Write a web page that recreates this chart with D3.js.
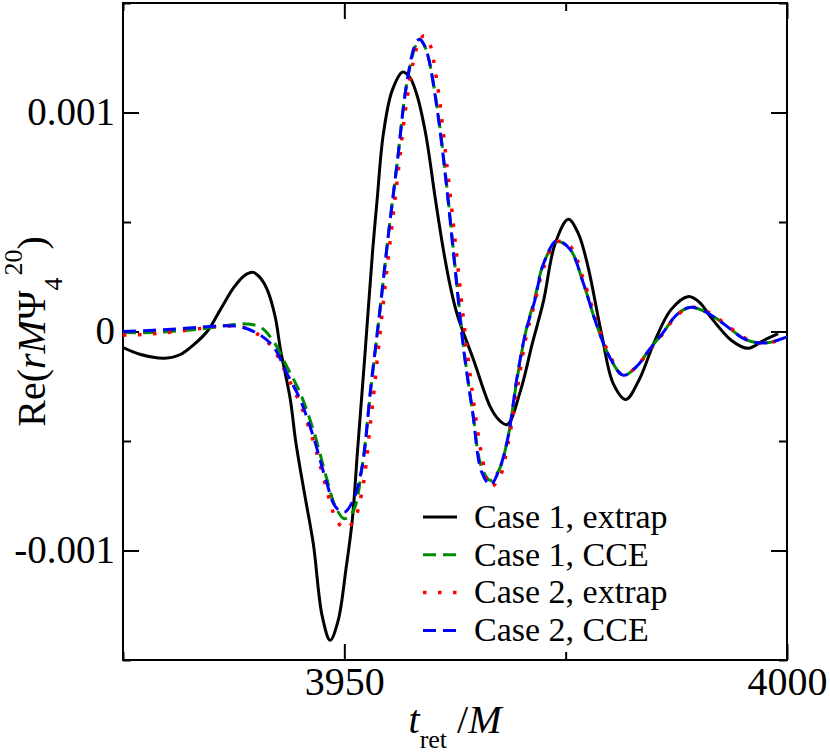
<!DOCTYPE html>
<html>
<head>
<meta charset="utf-8">
<script src="https://cdn.jsdelivr.net/npm/d3@7"></script>
<style>
	body { margin: 0; background: #fff; }
	svg { display: block; background: #fff; font-family: "Liberation Serif", "Times New Roman", serif; }
</style>
</head>
<body>
<svg id="chart"></svg>
<script>
// retarded time t_ret/M, values of Re(rM Psi4^20) given in units of 1e-3
const tExtrap1 = [3925, 3927, 3929.7, 3931.5, 3933, 3934.5, 3936, 3937.5, 3938.7, 3939.7,
	3940.5, 3941.3, 3942.2, 3942.8, 3943.9, 3944.5, 3945.5, 3946.5, 3947.5, 3948.4,
	3949.3, 3950.2, 3950.9, 3951.5, 3952.3, 3953.2, 3953.7, 3954.4, 3955.4, 3956.6,
	3957.4, 3958.2, 3959.2, 3960.3, 3961.2, 3962, 3962.8, 3964.6, 3966.5, 3967.5, 3968.4,
	3969.9, 3971.2, 3972.5, 3973.8, 3975.3, 3976.4, 3977.5, 3979, 3980.4, 3981.8,
	3983.3, 3985, 3986.9, 3988.9, 3990.2, 3991.4, 3993.7, 3995.6, 3997.4, 3999];
const valExtrap1 = [-0.073, -0.105, -0.122, -0.105, -0.06, 0, 0.10, 0.20, 0.255, 0.27,
	0.245, 0.19, 0.065, -0.086, -0.31, -0.50, -0.74, -0.97, -1.30, -1.41,
	-1.32, -1.08, -0.86, -0.54, -0.12, 0.37, 0.60, 0.90, 1.10, 1.185,
	1.16, 1.08, 0.90, 0.60, 0.37, 0.20, 0.07, -0.13, -0.345, -0.405, -0.425,
	-0.27, -0.06, 0.14, 0.40, 0.512, 0.45, 0.30, 0, -0.24, -0.31,
	-0.22, -0.05, 0.10, 0.16, 0.13, 0.065, -0.04, -0.077, -0.04, -0.01];

const tShared = [3925, 3928, 3931, 3934, 3936.5, 3938.5, 3940.5, 3942, 3943.5, 3945,
	3946.5, 3948, 3949, 3950, 3951, 3952, 3953, 3954, 3955, 3956,
	3957, 3958, 3958.5, 3959, 3959.5, 3960.5, 3961.5, 3962.5, 3963.5, 3964.5, 3965.5,
	3966.5, 3967.5, 3968.5, 3969.5, 3970.5, 3971.5, 3972.5, 3974, 3975.5, 3977,
	3978.5, 3980, 3981.5, 3983, 3984.5, 3986, 3987.5, 3989, 3990.5, 3992,
	3993.5, 3995, 3996.5, 3998, 4000];
const valCCE1 = [-0.005, -0.005, 0.002, 0.012, 0.026, 0.035, 0.02, -0.045, -0.16, -0.28,
	-0.45, -0.67, -0.80, -0.855, -0.82, -0.62, -0.26, 0.09, 0.45, 0.78,
	1.12, 1.30, 1.335, 1.31, 1.25, 1.02, 0.69, 0.30, -0.08, -0.37, -0.62,
	-0.68, -0.63, -0.48, -0.22, 0, 0.15, 0.31, 0.41, 0.375, 0.22,
	0.03, -0.12, -0.20, -0.16, -0.08, -0.005, 0.075, 0.11, 0.095, 0.06,
	0.015, -0.03, -0.05, -0.05, -0.025];
const valExtrap2 = [-0.017, -0.012, 0, 0.015, 0.025, 0.02, -0.02, -0.08, -0.20, -0.33,
	-0.50, -0.72, -0.85, -0.90, -0.87, -0.73, -0.40, -0.02, 0.35, 0.70,
	1.04, 1.27, 1.33, 1.35, 1.33, 1.13, 0.79, 0.42, 0.04, -0.29, -0.56,
	-0.71, -0.67, -0.51, -0.27, -0.03, 0.13, 0.29, 0.41, 0.39, 0.24,
	0.045, -0.11, -0.20, -0.16, -0.085, -0.01, 0.07, 0.11, 0.10, 0.065,
	0.02, -0.025, -0.05, -0.05, -0.03];
const valCCE2 = [0, 0.005, 0.012, 0.02, 0.026, 0.02, -0.017, -0.07, -0.19, -0.31,
	-0.48, -0.69, -0.80, -0.825, -0.77, -0.62, -0.25, 0.09, 0.45, 0.78,
	1.12, 1.31, 1.335, 1.31, 1.25, 1.01, 0.68, 0.29, -0.09, -0.37, -0.64,
	-0.70, -0.63, -0.48, -0.21, 0, 0.14, 0.31, 0.415, 0.375, 0.22,
	0.03, -0.12, -0.20, -0.16, -0.08, -0.005, 0.075, 0.11, 0.095, 0.06,
	0.015, -0.03, -0.05, -0.05, -0.025];

const seriesNames = ["Case 1, extrap", "Case 1, CCE", "Case 2, extrap", "Case 2, CCE"];

const xDomain = [3925, 4000];
const yDomain = [-0.0015, 0.0015];
const xMajor = [3950, 4000];
const xMinor = [3925, 3975];
const yMajor = [-0.001, 0, 0.001];
const yMinor = [-0.0015, -0.0005, 0.0005, 0.0015];

class WavePlot {
	constructor(_config, _data) {
		this.config = {
			parentElement: _config.parentElement,
			containerWidth: _config.containerWidth || 830,
			containerHeight: _config.containerHeight || 753,
			margin: {top: 3, bottom: 93, right: 43, left: 123}
		}
		this.data = _data;
		this.initVis();
	}

	initVis() {
		let vis = this;
		let m = vis.config.margin;

		vis.width = vis.config.containerWidth - m.left - m.right;
		vis.height = vis.config.containerHeight - m.top - m.bottom;

		vis.svg = d3.select(vis.config.parentElement)
			.attr("width", vis.config.containerWidth)
			.attr("height", vis.config.containerHeight);

		vis.chart = vis.svg.append("g")
			.attr("transform", `translate(${m.left},${m.top})`);

		vis.xScale = d3.scaleLinear().domain(xDomain).range([0, vis.width]);
		vis.yScale = d3.scaleLinear().domain(yDomain).range([vis.height, 0]);

		// styles per series: black solid, green dash, red dot, blue dash
		vis.styles = [
			{color: "#000000", dash: null, width: 3},
			{color: "#008b00", dash: "13,7", width: 3},
			{color: "#ff0000", dash: "3.5,11.5", width: 3.5},
			{color: "#0000ff", dash: "13,7", width: 3}
		];

		vis.drawAxes();
		vis.updateVis();
	}

	drawAxes() {
		let vis = this;
		let fmtY = d => d === 0 ? "0" : String(d);

		let styleAxis = (g, fs) => {
			g.select(".domain").remove();
			g.attr("font-family", null).attr("font-size", fs);
			g.selectAll("line").attr("stroke", "#000").attr("stroke-width", 2);
			g.selectAll("text").attr("fill", "#000");
		};

		// bottom
		vis.chart.append("g")
			.attr("transform", `translate(0,${vis.height})`)
			.call(d3.axisBottom(vis.xScale).tickValues(xMajor).tickSize(-16).tickPadding(7).tickFormat(d3.format("d")))
			.call(g => styleAxis(g, 40));
		vis.chart.append("g")
			.attr("transform", `translate(0,${vis.height})`)
			.call(d3.axisBottom(vis.xScale).tickValues(xMinor).tickSize(-8).tickFormat(""))
			.call(g => styleAxis(g, 40));
		// top
		vis.chart.append("g")
			.call(d3.axisTop(vis.xScale).tickValues(xMajor).tickSize(-16).tickFormat(""))
			.call(g => styleAxis(g, 40));
		vis.chart.append("g")
			.call(d3.axisTop(vis.xScale).tickValues(xMinor).tickSize(-8).tickFormat(""))
			.call(g => styleAxis(g, 40));
		// left
		vis.chart.append("g")
			.call(d3.axisLeft(vis.yScale).tickValues(yMajor).tickSize(-16).tickPadding(8).tickFormat(fmtY))
			.call(g => styleAxis(g, 39));
		vis.chart.append("g")
			.call(d3.axisLeft(vis.yScale).tickValues(yMinor).tickSize(-8).tickFormat(""))
			.call(g => styleAxis(g, 39));
		// right
		vis.chart.append("g")
			.attr("transform", `translate(${vis.width},0)`)
			.call(d3.axisRight(vis.yScale).tickValues(yMajor).tickSize(-16).tickFormat(""))
			.call(g => styleAxis(g, 39));
		vis.chart.append("g")
			.attr("transform", `translate(${vis.width},0)`)
			.call(d3.axisRight(vis.yScale).tickValues(yMinor).tickSize(-8).tickFormat(""))
			.call(g => styleAxis(g, 39));

		// frame
		vis.chart.append("rect")
			.attr("width", vis.width)
			.attr("height", vis.height)
			.attr("fill", "none")
			.attr("stroke", "#000")
			.attr("stroke-width", 2);

		// x title: t_ret /M
		let xt = vis.chart.append("text")
			.attr("x", vis.width / 2)
			.attr("y", vis.height + 73)
			.attr("text-anchor", "middle")
			.attr("font-size", 40);
		xt.append("tspan").attr("font-style", "italic").text("t");
		xt.append("tspan").attr("font-size", 26).attr("dy", 15).text("ret");
		xt.append("tspan").attr("dy", -15).text(" /");
		xt.append("tspan").attr("font-style", "italic").text("M");

		// y title: Re(rM Psi_4^20)
		let yt = vis.svg.append("text")
			.attr("transform", "rotate(-90)")
			.attr("x", -(vis.config.margin.top + vis.height / 2))
			.attr("y", 45)
			.attr("text-anchor", "middle")
			.attr("font-size", 40);
		yt.append("tspan").text("Re(");
		yt.append("tspan").attr("font-style", "italic").text("rM");
		yt.append("tspan").text("\u03A8");
		yt.append("tspan").attr("font-size", 26).attr("dy", 17).text("4");
		yt.append("tspan").attr("font-size", 26).attr("dx", 2).attr("dy", -40).text("20");
		yt.append("tspan").attr("dy", 23).text(")");
	}

	updateVis() {
		let vis = this;

		vis.line = d3.line()
			.x(d => vis.xScale(d.t))
			.y(d => vis.yScale(d.v))
			.curve(d3.curveCatmullRom.alpha(0.5));

		vis.chart.append("g")
			.attr("fill", "none")
			.selectAll("path")
			.data(vis.data)
			.join("path")
			.attr("d", d => vis.line(d.values))
			.attr("stroke", (d, i) => vis.styles[i].color)
			.attr("stroke-width", (d, i) => vis.styles[i].width)
			.attr("stroke-dasharray", (d, i) => vis.styles[i].dash)
			.attr("stroke-linejoin", "round");

		// legend
		let lx = 300, ly = 514, rowH = 37.8;
		let legend = vis.chart.append("g")
			.selectAll("g")
			.data(vis.data)
			.join("g")
			.attr("transform", (d, i) => `translate(${lx},${ly + i * rowH})`);

		legend.append("line")
			.attr("x1", 0)
			.attr("x2", 34)
			.attr("stroke", (d, i) => vis.styles[i].color)
			.attr("stroke-width", (d, i) => vis.styles[i].width)
			.attr("stroke-dasharray", (d, i) => vis.styles[i].dash);

		legend.append("text")
			.attr("x", 51)
			.attr("dy", "0.32em")
			.attr("font-size", 34)
			.text(d => d.name);
	}
}

let toSeries = (name, ts, vs) => ({
	name: name,
	values: ts.map((t, i) => ({t: t, v: vs[i] * 1e-3}))
});

let plotData = [
	toSeries(seriesNames[0], tExtrap1, valExtrap1),
	toSeries(seriesNames[1], tShared, valCCE1),
	toSeries(seriesNames[2], tShared, valExtrap2),
	toSeries(seriesNames[3], tShared, valCCE2)
];

let plot = new WavePlot({parentElement: "#chart", containerWidth: 830, containerHeight: 753}, plotData);
</script>
</body>
</html>
